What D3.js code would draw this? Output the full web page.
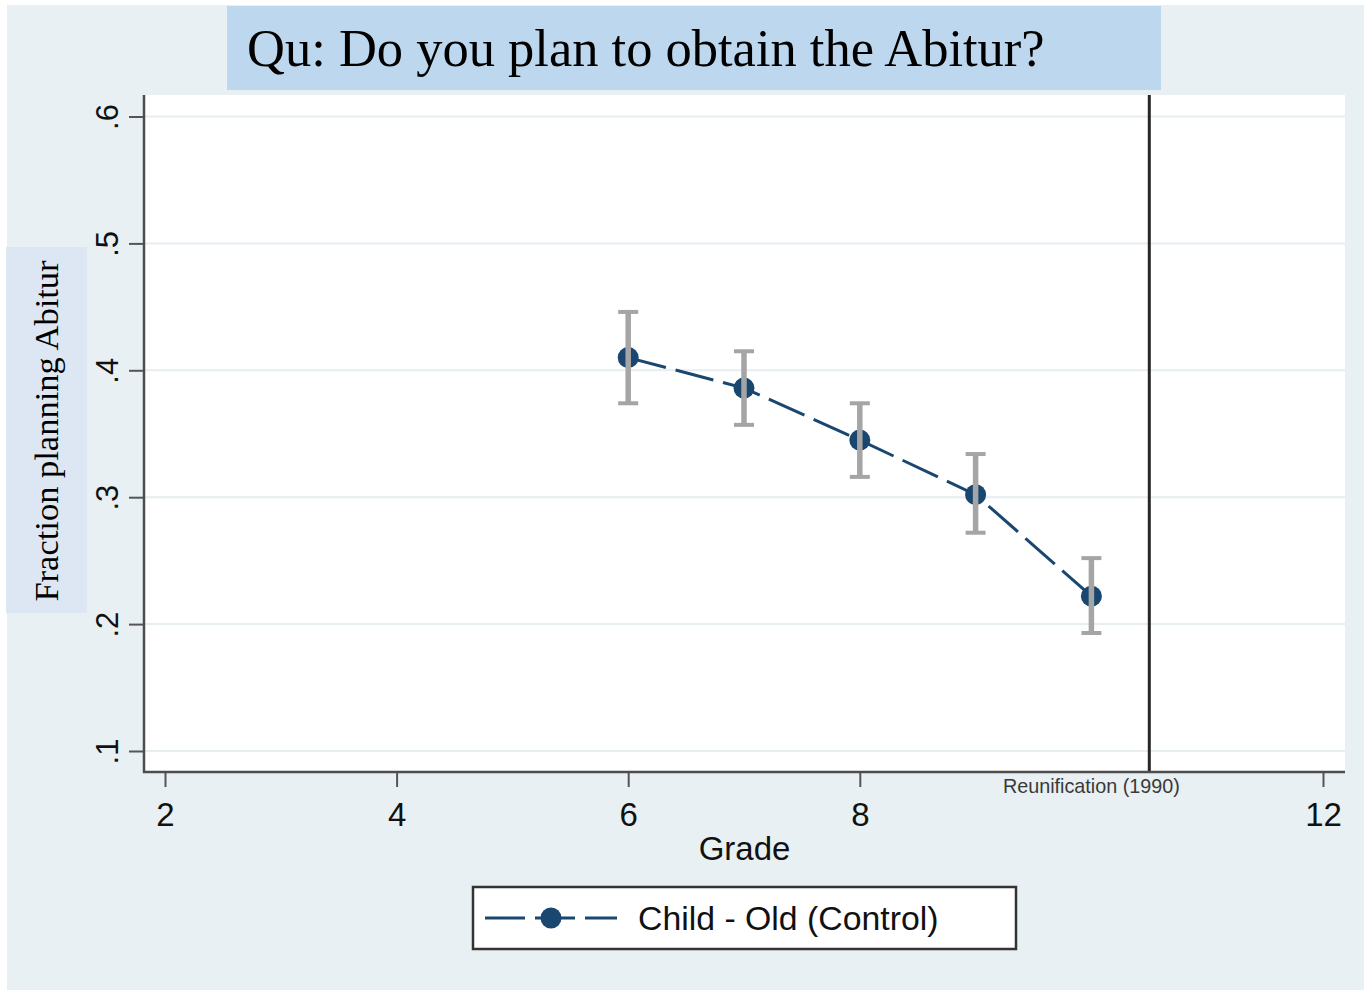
<!DOCTYPE html>
<html>
<head>
<meta charset="utf-8">
<script src="https://cdn.jsdelivr.net/npm/d3@7"></script>
<style>
  html, body { margin: 0; padding: 0; background: #fff; }
  svg { display: block; }
</style>
</head>
<body>
<div id="chart"></div>
<script>
// data
const grades = [6, 7, 8, 9, 10];
const fraction = [0.410, 0.386, 0.345, 0.302, 0.222];
const ciLow = [0.374, 0.357, 0.316, 0.272, 0.193];
const ciHigh = [0.446, 0.415, 0.374, 0.334, 0.252];

const xTicks = [2, 4, 6, 8, 12];
const yTicks = [0.1, 0.2, 0.3, 0.4, 0.5, 0.6];
const reunificationAt = 10.5;
const reunificationLabelAt = 10;
const reunificationLabel = 'Reunification (1990)';

const titleText = 'Qu: Do you plan to obtain the Abitur?';
const yTitle = 'Fraction planning Abitur';
const xTitle = 'Grade';
const legendLabel = 'Child - Old (Control)';

const W = 1364, H = 990;
const plot = { left: 144, right: 1345, top: 95, bottom: 772 };
const navy = '#1a476f';
const sans = '"Liberation Sans", Arial, sans-serif';
const serif = '"Liberation Serif", "Times New Roman", serif';

const svg = d3.select('#chart').append('svg')
  .attr('width', W)
  .attr('height', H);

// graph region background
svg.append('rect')
  .attr('x', 7).attr('y', 5)
  .attr('width', W - 7).attr('height', H - 5)
  .attr('fill', '#e8f0f3');

// plot region
svg.append('rect')
  .attr('x', plot.left).attr('y', plot.top)
  .attr('width', plot.right - plot.left)
  .attr('height', plot.bottom - plot.top)
  .attr('fill', '#fff');

const x = d3.scaleLinear().domain([2, 12]).range([165, 1323]);
const y = d3.scaleLinear().domain([0.1, 0.6]).range([751, 116.5]);

// gridlines
svg.append('g')
  .selectAll('line')
  .data(yTicks)
  .join('line')
  .attr('x1', plot.left).attr('x2', plot.right)
  .attr('y1', d => y(d)).attr('y2', d => y(d))
  .attr('stroke', '#e6eef1')
  .attr('stroke-width', 2);

// reunification line
svg.append('line')
  .attr('x1', x(reunificationAt)).attr('x2', x(reunificationAt))
  .attr('y1', plot.top).attr('y2', plot.bottom)
  .attr('stroke', '#262626')
  .attr('stroke-width', 3);

svg.append('text')
  .attr('x', x(reunificationLabelAt))
  .attr('y', 793)
  .attr('text-anchor', 'middle')
  .attr('font-family', sans)
  .attr('font-size', 19.8)
  .attr('fill', '#3a3a3a')
  .text(reunificationLabel);

// y axis
const yAxis = svg.append('g')
  .attr('transform', `translate(${plot.left},0)`)
  .call(d3.axisLeft(y).tickValues(yTicks).tickSize(15).tickSizeOuter(0)
    .tickFormat(d => '.' + Math.round(d * 10)));
yAxis.select('.domain').remove();
yAxis.selectAll('.tick line').attr('stroke', '#555').attr('stroke-width', 2);
yAxis.selectAll('.tick text')
  .attr('x', null).attr('dy', null)
  .attr('transform', 'translate(-26,0) rotate(-90)')
  .attr('text-anchor', 'middle')
  .attr('font-family', sans)
  .attr('font-size', 31)
  .attr('fill', '#111');

// x axis
const xAxis = svg.append('g')
  .attr('transform', `translate(0,${plot.bottom})`)
  .call(d3.axisBottom(x).tickValues(xTicks).tickSize(15).tickSizeOuter(0));
xAxis.select('.domain').remove();
xAxis.selectAll('.tick line').attr('stroke', '#555').attr('stroke-width', 2);
xAxis.selectAll('.tick text')
  .attr('y', 54).attr('dy', null)
  .attr('font-family', sans)
  .attr('font-size', 33)
  .attr('fill', '#111');

// axis lines
svg.append('line')
  .attr('x1', plot.left).attr('x2', plot.left)
  .attr('y1', plot.top).attr('y2', plot.bottom + 1)
  .attr('stroke', '#4d4d4d').attr('stroke-width', 2.5);
svg.append('line')
  .attr('x1', plot.left - 1).attr('x2', plot.right)
  .attr('y1', plot.bottom).attr('y2', plot.bottom)
  .attr('stroke', '#4d4d4d').attr('stroke-width', 2.5);

svg.append('text')
  .attr('x', (plot.left + plot.right) / 2)
  .attr('y', 860)
  .attr('text-anchor', 'middle')
  .attr('font-family', sans)
  .attr('font-size', 33)
  .attr('fill', '#111')
  .text(xTitle);

// series
const pts = grades.map((g, i) => ({ g, v: fraction[i], lo: ciLow[i], hi: ciHigh[i] }));

svg.append('path')
  .datum(pts)
  .attr('fill', 'none')
  .attr('stroke', navy)
  .attr('stroke-width', 3)
  .attr('stroke-dasharray', '39,10')
  .attr('d', d3.line().x(d => x(d.g)).y(d => y(d.v)));

svg.append('g')
  .selectAll('circle')
  .data(pts)
  .join('circle')
  .attr('cx', d => x(d.g))
  .attr('cy', d => y(d.v))
  .attr('r', 10.5)
  .attr('fill', navy);

// error bars drawn over the markers
const bars = svg.append('g')
  .attr('stroke', '#a5a5a5')
  .selectAll('g')
  .data(pts)
  .join('g');
bars.append('line')
  .attr('x1', d => x(d.g)).attr('x2', d => x(d.g))
  .attr('y1', d => y(d.lo)).attr('y2', d => y(d.hi))
  .attr('stroke-width', 5.5);
bars.selectAll('.cap')
  .data(d => [{ g: d.g, v: d.lo }, { g: d.g, v: d.hi }])
  .join('line')
  .attr('class', 'cap')
  .attr('x1', d => x(d.g) - 10).attr('x2', d => x(d.g) + 10)
  .attr('y1', d => y(d.v)).attr('y2', d => y(d.v))
  .attr('stroke-width', 4);

// title box
svg.append('rect')
  .attr('x', 227).attr('y', 6)
  .attr('width', 934).attr('height', 84)
  .attr('fill', '#bdd7ee');
svg.append('text')
  .attr('x', 247).attr('y', 66)
  .attr('font-family', serif)
  .attr('font-size', 52.5)
  .attr('fill', '#000')
  .text(titleText);

// y title box
svg.append('rect')
  .attr('x', 6).attr('y', 247)
  .attr('width', 81).attr('height', 366)
  .attr('fill', '#dce7f3');
svg.append('text')
  .attr('transform', 'translate(58,431) rotate(-90)')
  .attr('text-anchor', 'middle')
  .attr('font-family', serif)
  .attr('font-size', 34.5)
  .attr('fill', '#000')
  .text(yTitle);

// legend
const legend = svg.append('g');
legend.append('rect')
  .attr('x', 473).attr('y', 887)
  .attr('width', 543).attr('height', 62)
  .attr('fill', '#fff')
  .attr('stroke', '#333')
  .attr('stroke-width', 2.5);
legend.append('line')
  .attr('x1', 485).attr('x2', 617)
  .attr('y1', 918).attr('y2', 918)
  .attr('stroke', navy)
  .attr('stroke-width', 3)
  .attr('stroke-dasharray', '40,10');
legend.append('circle')
  .attr('cx', 551).attr('cy', 918)
  .attr('r', 10.5)
  .attr('fill', navy);
legend.append('text')
  .attr('x', 638).attr('y', 930)
  .attr('font-family', sans)
  .attr('font-size', 33.8)
  .attr('fill', '#111')
  .text(legendLabel);
</script>
</body>
</html>
